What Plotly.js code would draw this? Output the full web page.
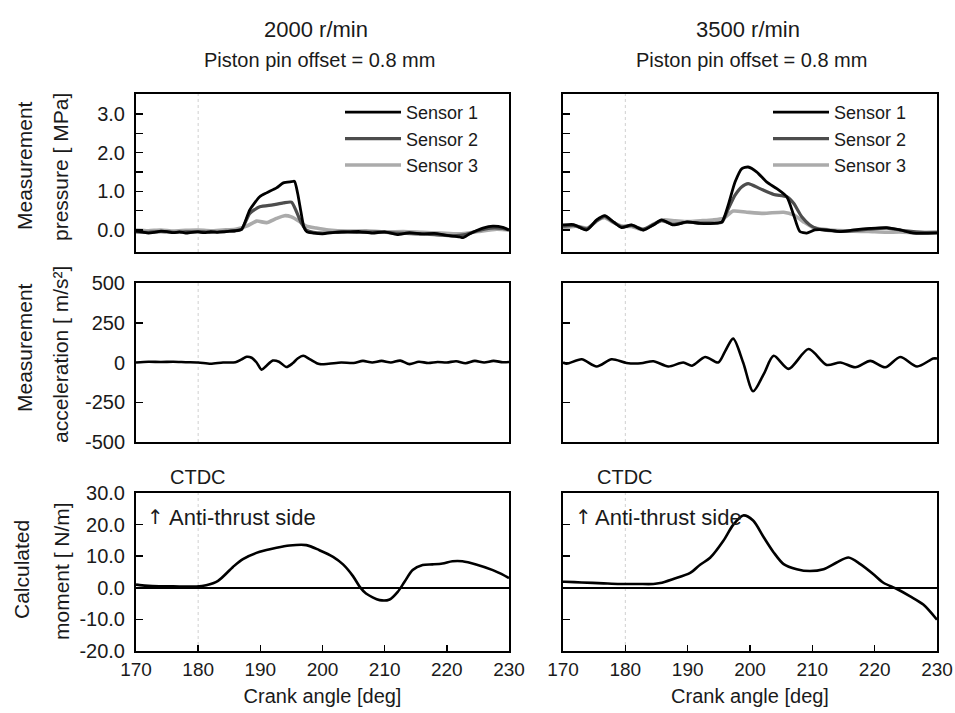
<!DOCTYPE html>
<html>
<head>
<meta charset="utf-8">
<script src="https://cdn.plot.ly/plotly-3.0.1.min.js"></script>
<style>html,body{margin:0;padding:0;background:#fff;}#chart{width:955px;height:713px;}</style>
</head>
<body>
<div id="chart"></div>
<script>
// ---------- DATA ----------
// Top row: measured pressure [MPa], 2000 r/min
const xS1L = [170,171,172,173,174,175,176,177,178,179,180,181,182,183,184,185,186,187,188.3,189.9,191,192.6,193.7,195,195.5,196,196.5,197,197.5,198.5,200,202,204,206,208,210,212,214,216,218,220,222,222.6,223.7,225,225.8,227.4,229,230];
const yS1L = [-0.03,-0.05,-0.08,-0.06,-0.03,-0.04,-0.07,-0.05,-0.08,-0.06,-0.05,-0.07,-0.04,-0.06,-0.05,-0.03,-0.02,0.02,0.52,0.86,0.96,1.09,1.22,1.25,1.26,0.95,0.5,0.08,-0.05,-0.08,-0.1,-0.06,-0.05,-0.04,-0.08,-0.05,-0.12,-0.07,-0.1,-0.09,-0.14,-0.18,-0.2,-0.1,0.0,0.05,0.1,0.07,0.0];
const xS2L = [170,172,174,176,178,180,182,184,186,187,188.3,189.9,192,193.7,195,195.8,196.6,197.4,198.5,200,203,206,209,212,215,218,221,223,225,227,229,230];
const yS2L = [-0.05,-0.06,-0.04,-0.06,-0.05,-0.04,-0.06,-0.04,-0.02,0.02,0.43,0.6,0.65,0.7,0.72,0.48,0.18,0.0,-0.06,-0.08,-0.05,-0.06,-0.05,-0.08,-0.1,-0.12,-0.15,-0.12,-0.02,0.05,0.04,0.0];
const xS3L = [170,172,174,176,178,180,182,184,186,187.8,189.4,191,192.6,193.9,195,196.3,197.4,199,201,204,207,210,213,216,219,222,225,228,230];
const yS3L = [0.0,-0.02,0.0,-0.03,-0.01,0.0,-0.02,0.0,0.02,0.1,0.23,0.19,0.3,0.37,0.34,0.22,0.1,0.05,0.0,-0.03,-0.02,-0.05,-0.04,-0.06,-0.08,-0.1,-0.04,0.02,0.0];

// Top row: measured pressure [MPa], 3500 r/min
const xS1R = [170,171.7,173.8,175.4,176.7,178.1,179.4,181,182.9,184.5,185.8,187.7,189.9,192,194.1,195.5,196.5,197.6,198.7,199.7,201.1,202.7,204.3,205.9,207,208,209.1,210.4,212.3,214.4,216.6,219.3,221.9,224.1,226.2,230];
const yS1R = [0.13,0.14,0.0,0.26,0.37,0.21,0.06,0.13,0.0,0.13,0.26,0.13,0.21,0.17,0.17,0.21,0.64,1.24,1.59,1.63,1.5,1.24,1.07,0.86,0.39,-0.04,-0.08,0.0,0.0,-0.04,0.0,0.04,0.06,0.0,-0.08,-0.08];
const xS2R = [170,171.7,173.8,175.4,176.7,178.1,179.4,181,182.9,184.5,185.8,187.7,189.9,192,194.1,195.5,196.3,197.6,198.7,199.7,201.6,203.8,205.9,207,208.3,209.6,210.7,213,216,219,222,225,228,230];
const yS2R = [0.1,0.12,0.03,0.24,0.35,0.2,0.08,0.12,0.02,0.14,0.24,0.15,0.2,0.18,0.18,0.2,0.47,0.9,1.12,1.2,1.07,0.92,0.86,0.69,0.34,0.13,0.04,-0.02,-0.03,0.02,0.05,-0.02,-0.06,-0.06];
const xS3R = [170,172,174,175.5,176.7,178,179.5,181,182.9,184.5,186,188,190,192,194,195.7,197.3,199.5,202.2,205.4,207,208.6,210.2,212.9,216.6,219,221.9,224,227.3,230];
const yS3R = [0.04,0.1,0.05,0.25,0.32,0.2,0.1,0.09,0.0,0.15,0.26,0.24,0.22,0.24,0.26,0.3,0.49,0.46,0.43,0.46,0.39,0.21,0.06,0.0,-0.03,-0.04,-0.06,-0.05,-0.08,-0.06];

// Middle row: measured acceleration [m/s2]
const xAL = [170,172,174,176,178,180,182,184,186,187,187.8,188.6,189.4,190.2,191,192,193,194.2,195.2,196,196.9,198,199.5,201,203,205,206.5,208,209.5,211,212.5,214,215.5,217,218.5,220,221.5,223,224.5,226,227.5,229,230];
const yAL = [0,5,3,5,2,0,-8,0,2,20,36,30,0,-45,-20,12,5,-28,-5,25,42,20,-10,-8,0,-3,10,0,10,0,12,-10,5,-3,3,0,8,-5,10,0,10,2,3];
const xAR = [170,170.6,173,175.4,177.8,180.2,182.5,184.5,186.9,189.3,190.7,192.8,194.9,196,197.3,198.9,200.5,202.2,203.8,206.2,209.4,212.3,214.5,216.9,219.3,221.7,224.1,226.8,229.4,230];
const yAR = [0,-8,20,-25,20,-3,-5,8,-25,0,-20,35,0,70,150,0,-181,-73,42,-40,85,-15,0,-30,10,-30,35,-25,25,25];

// Bottom row: calculated moment [N/m]
const xML = [170,170.6,172,174,176,178,179.7,181.3,183.2,185.6,187.2,189.9,192.6,194.7,197.4,199.5,201.7,203.3,204.9,206,207,209.2,210.8,212.1,213.2,214.5,216.1,217.7,219.3,220.9,222.5,224.7,227.4,229.8,230];
const yML = [1.0,0.85,0.6,0.5,0.45,0.4,0.4,0.8,2.2,6.6,9.1,11.4,12.7,13.4,13.5,11.9,9.8,7.4,3.7,0.3,-1.8,-3.9,-3.7,-1.3,1.9,5.6,7.2,7.4,7.7,8.4,8.4,7.4,5.6,3.3,3.0];
const xMR = [170,170.3,173,176.5,179.1,182,184.5,185.6,187.7,190.4,192,193.6,195.7,197.3,198.9,200.5,202.2,203.8,205.4,207.5,209.6,211.8,213.9,215.8,217.7,219.8,221.4,223.5,225.7,227.8,230];
const yMR = [1.9,1.9,1.7,1.4,1.2,1.2,1.2,1.5,2.8,4.7,7.3,9.5,14.8,19.9,22.9,21.3,16,11.2,7.5,5.9,5.3,5.9,8,9.6,7.5,4.3,1.6,-0.3,-2.7,-5.3,-10.1];

// Labels and ticks
const sensorNames = ['Sensor 1','Sensor 2','Sensor 3'];
const speedTitles = ['2000 r/min','3500 r/min'];
const offsetTitle = 'Piston pin offset = 0.8 mm';
const xTickVals = [170,180,190,200,210,220,230];
const pTickVals = [0,1,2,3];
const pTickText = ['0.0','1.0','2.0','3.0'];
const pMinorVals = [0.5,1.5,2.5];
const aTickVals = [-500,-250,0,250,500];
const aTickText = ['-500','-250','0','250','500'];
const mTickVals = [-20,-10,0,10,20,30];
const mTickText = ['-20.0','-10.0','0.0','10.0','20.0','30.0'];
const ctdcAngle = 180;

// ---------- STYLE ----------
const FONT = 'Liberation Sans, Arial, sans-serif';
const TXT = '#1a1a1a';
const sensorColors = ['#000000','#4d4d4d','#ababab'];
const sensorWidths = [2.8,3.2,3.6];

const traces = [];
const pData = [[xS1L,yS1L,xS2L,yS2L,xS3L,yS3L],[xS1R,yS1R,xS2R,yS2R,xS3R,yS3R]];
for (let c = 0; c < 2; c++) {
  for (let s = 0; s < 3; s++) {
    traces.push({
      x: pData[c][2*s], y: pData[c][2*s+1], type: 'scatter', mode: 'lines',
      name: sensorNames[s], line: {color: sensorColors[s], width: sensorWidths[s], shape: 'spline', smoothing: 0.6},
      xaxis: c === 0 ? 'x' : 'x2', yaxis: c === 0 ? 'y' : 'y2',
      legend: c === 0 ? 'legend' : 'legend2', showlegend: true
    });
  }
}
// Sensor 3 drawn first so the black Sensor 1 lies on top
const order = [2,1,0,5,4,3];
const pTraces = order.map(i => traces[i]);
const lineStyle = {color: '#000', width: 2.6, shape: 'spline', smoothing: 0.8};
const others = [
  {x: xAL, y: yAL, xaxis: 'x3', yaxis: 'y3'},
  {x: xAR, y: yAR, xaxis: 'x4', yaxis: 'y4'},
  {x: xML, y: yML, xaxis: 'x5', yaxis: 'y5'},
  {x: xMR, y: yMR, xaxis: 'x6', yaxis: 'y6'}
].map(t => Object.assign({type: 'scatter', mode: 'lines', line: lineStyle, showlegend: false, hoverinfo: 'skip'}, t));

const colL = [136/955, 509/955];
const colR = [563/955, 937/955];
const row1 = [(713-252)/713, (713-94)/713];
const row2 = [(713-442)/713, (713-283)/713];
const row3 = [(713-651)/713, (713-493)/713];

function xa(dom, anchor, bottom) {
  const a = {
    domain: dom, anchor: anchor, range: [170,230], showline: true, mirror: true,
    linecolor: '#000', linewidth: 2, showgrid: false, zeroline: false,
    ticks: bottom ? 'inside' : '', ticklen: 6, tickwidth: 1.5, tickcolor: '#000',
    tickvals: xTickVals, showticklabels: !!bottom,
    tickfont: {family: FONT, size: 19, color: TXT}
  };
  if (bottom) a.title = {text: 'Crank angle [deg]', font: {family: FONT, size: 20, color: TXT}, standoff: 10};
  return a;
}
function ya(dom, anchor, range, vals, text, labels, zl, minorVals) {
  const a = {
    domain: dom, anchor: anchor, range: range, showline: true, mirror: true,
    linecolor: '#000', linewidth: 2, showgrid: false,
    zeroline: !!zl, zerolinecolor: '#000', zerolinewidth: 1.6,
    ticks: 'inside', ticklen: 7, tickwidth: 1.5, tickcolor: '#000',
    tickvals: vals, ticktext: text, showticklabels: labels, ticklabelstandoff: 5,
    tickfont: {family: FONT, size: 20, color: TXT}
  };
  if (minorVals) a.minor = {tickvals: minorVals, ticks: 'inside', ticklen: 7, tickwidth: 1.5, tickcolor: '#000', showgrid: false};
  return a;
}

const ann = [];
const titleFont = {family: FONT, size: 22, color: TXT};
const subFont = {family: FONT, size: 20, color: TXT};
ann.push({text: speedTitles[0], x: 316/955, y: (713-29)/713, xref: 'paper', yref: 'paper', showarrow: false, font: titleFont, xanchor: 'center', yanchor: 'middle'});
ann.push({text: offsetTitle, x: 319/955, y: (713-60)/713, xref: 'paper', yref: 'paper', showarrow: false, font: subFont, xanchor: 'center', yanchor: 'middle'});
ann.push({text: speedTitles[1], x: 748/955, y: (713-29)/713, xref: 'paper', yref: 'paper', showarrow: false, font: titleFont, xanchor: 'center', yanchor: 'middle'});
ann.push({text: offsetTitle, x: 751/955, y: (713-60)/713, xref: 'paper', yref: 'paper', showarrow: false, font: subFont, xanchor: 'center', yanchor: 'middle'});

const yTitleFont = {family: FONT, size: 21, color: TXT};
const yTitles = [
  ['Measurement', 24, 166], ['pressure [ MPa]', 61, 167],
  ['Measurement', 24, 348], ['acceleration [ m/s\u00b2]', 61, 355],
  ['Calculated', 21, 570], ['moment [ N/m]', 61, 571]
];
yTitles.forEach(t => ann.push({text: t[0], x: t[1]/955, y: (713-t[2])/713, xref: 'paper', yref: 'paper', showarrow: false, textangle: -90, font: yTitleFont, xanchor: 'center', yanchor: 'middle'}));

[['x5','y5',0.026,0.086],['x6','y6',0.03,0.083]].forEach(r => {
  ann.push({text: 'CTDC', x: ctdcAngle, xref: r[0], y: 1, yref: r[1] + ' domain', yanchor: 'bottom', xanchor: 'center', yshift: 3, showarrow: false, font: {family: FONT, size: 20, color: TXT}});
  ann.push({text: '\u2191', x: r[2], xref: r[0] + ' domain', y: 22.4, yref: r[1], xanchor: 'left', yanchor: 'middle', showarrow: false, borderpad: 0, font: {family: 'DejaVu Sans, sans-serif', size: 20, color: TXT}});
  ann.push({text: 'Anti-thrust side', x: r[3], xref: r[0] + ' domain', y: 22.4, yref: r[1], xanchor: 'left', yanchor: 'middle', showarrow: false, borderpad: 0, font: {family: FONT, size: 22, color: TXT}});
});

const shapes = [];
[['x','y'],['x2','y2'],['x3','y3'],['x4','y4'],['x5','y5'],['x6','y6']].forEach(r => {
  shapes.push({type: 'line', xref: r[0], yref: r[1] + ' domain', x0: ctdcAngle, x1: ctdcAngle, y0: 0, y1: 1, line: {color: '#d0d0d0', width: 1, dash: 'dot'}, layer: 'below'});
});

const legendBase = {xanchor: 'left', yanchor: 'top', bgcolor: 'rgba(0,0,0,0)', borderwidth: 0, font: {family: FONT, size: 18, color: TXT}, itemwidth: 56, tracegroupgap: 0, traceorder: 'reversed'};

const layout = {
  width: 955, height: 713, margin: {l: 0, r: 0, t: 0, b: 0},
  paper_bgcolor: '#fff', plot_bgcolor: '#fff',
  font: {family: FONT, color: TXT},
  xaxis: xa(colL, 'y', false), xaxis2: xa(colR, 'y2', false),
  xaxis3: xa(colL, 'y3', false), xaxis4: xa(colR, 'y4', false),
  xaxis5: xa(colL, 'y5', true), xaxis6: xa(colR, 'y6', true),
  yaxis: ya(row1, 'x', [-0.57, 3.52], pTickVals, pTickText, true, false, pMinorVals),
  yaxis2: ya(row1, 'x2', [-0.57, 3.52], pTickVals, pTickText, false, false, pMinorVals),
  yaxis3: ya(row2, 'x3', [-500, 500], aTickVals, aTickText, true),
  yaxis4: ya(row2, 'x4', [-500, 500], aTickVals, aTickText, false),
  yaxis5: ya(row3, 'x5', [-20, 30], mTickVals, mTickText, true, true),
  yaxis6: ya(row3, 'x6', [-20, 30], mTickVals, mTickText, false, true),
  legend: Object.assign({x: 340/955, y: (713-94)/713}, legendBase),
  legend2: Object.assign({x: 768/955, y: (713-94)/713}, legendBase),
  annotations: ann, shapes: shapes, showlegend: true
};

Plotly.newPlot('chart', pTraces.concat(others), layout, {staticPlot: true, displayModeBar: false});
</script>
</body>
</html>
